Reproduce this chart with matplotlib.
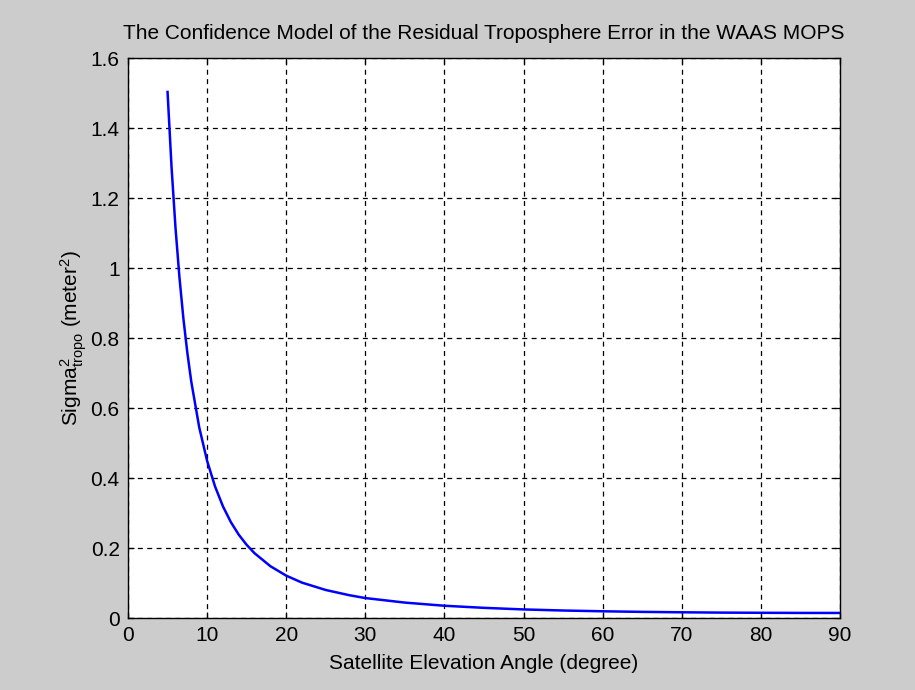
import matplotlib
matplotlib.use("Agg")
import matplotlib.pyplot as plt

# Data
elevation_deg = [5, 5.5, 6, 6.5, 7, 7.5, 8, 9, 10, 11, 12, 13, 14, 15, 16, 18, 20,
                 22, 25, 28, 30, 35, 40, 45, 50, 55, 60, 65, 70, 75, 80, 85, 90]
sigma2_tropo = [1.503, 1.290, 1.116, 0.974, 0.856, 0.758, 0.675, 0.545, 0.449,
                0.376, 0.319, 0.274, 0.238, 0.209, 0.185, 0.148, 0.121,
                0.101, 0.080, 0.065, 0.057, 0.044, 0.035, 0.029, 0.0245,
                0.0214, 0.0192, 0.0175, 0.0163, 0.0154, 0.0149, 0.0145, 0.0144]
xticks = [0, 10, 20, 30, 40, 50, 60, 70, 80, 90]
yticks = [0, 0.2, 0.4, 0.6, 0.8, 1.0, 1.2, 1.4, 1.6]
ytick_labels = ["0", "0.2", "0.4", "0.6", "0.8", "1", "1.2", "1.4", "1.6"]

plt.rcParams['font.family'] = ['Liberation Sans', 'DejaVu Sans']
plt.rcParams['mathtext.fontset'] = 'custom'
plt.rcParams['mathtext.rm'] = 'Liberation Sans'
plt.rcParams['mathtext.it'] = 'Liberation Sans'
plt.rcParams['mathtext.sf'] = 'Liberation Sans'
plt.rcParams['mathtext.default'] = 'rm'

bg = '#cccccc'
fig = plt.figure(figsize=(9.15, 6.9), dpi=100, facecolor=bg)
ax = fig.add_axes([128/915, 72/690, (840-128)/915, (618-58)/690])
ax.set_facecolor('white')

ax.plot(elevation_deg, sigma2_tropo, color='#0000ff', linewidth=1.8)

ax.set_xlim(0, 90)
ax.set_ylim(0, 1.6)
ax.set_xticks(xticks)
ax.set_yticks(yticks)
ax.set_yticklabels(ytick_labels)
ax.grid(True, color='black', linestyle=(0, (4, 3.5)), linewidth=0.9)
ax.tick_params(direction='in', length=4, width=0.9, top=True, right=True,
               labelsize=15, colors='black', pad=6)
for s in ax.spines.values():
    s.set_linewidth(1.0)
    s.set_color('black')

ax.set_title('The Confidence Model of the Residual Troposphere Error in the WAAS MOPS',
             fontsize=15, pad=14)
ax.set_xlabel('Satellite Elevation Angle (degree)', fontsize=15, labelpad=6)
ax.set_ylabel(r'Sigma$^{2}_{\mathrm{tropo}}$ (meter$^{2}$)', fontsize=15, labelpad=1)

fig.savefig('out.png', dpi=100, facecolor=bg)
